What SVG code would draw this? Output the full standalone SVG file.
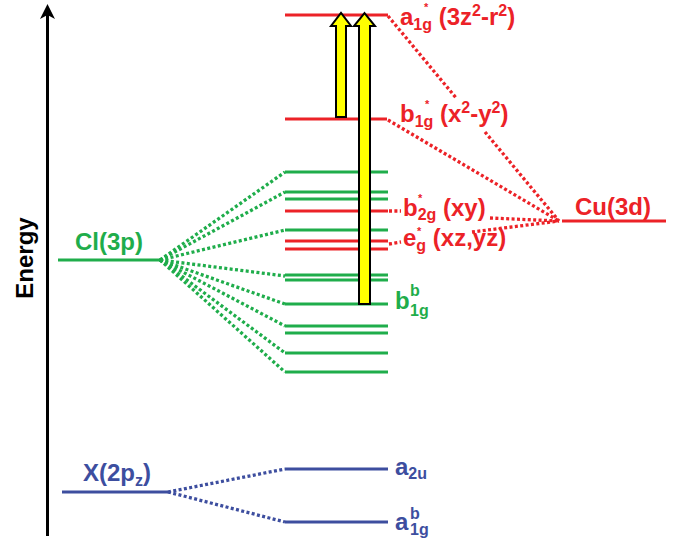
<svg xmlns="http://www.w3.org/2000/svg" width="676" height="541" viewBox="0 0 676 541">
<style>
.lv{stroke-width:3;fill:none}
.r{stroke:#ec2227}
.g{stroke:#1fad4b}
.b{stroke:#3d4e9f}
.dot{stroke-width:3.3;stroke-dasharray:3 2.4;fill:none}
text{font-family:"Liberation Sans",Arial,sans-serif;font-weight:bold}
.lab{font-size:24px}
.sub{font-size:16px}
.ast{font-size:11px}
.tr{fill:#ec2227}
.tg{fill:#1fad4b}
.tb{fill:#3d4e9f}
.yarrow{fill:#ffff00;stroke:#000;stroke-width:2;stroke-linejoin:miter}
</style>
<g id="axis">
<line x1="47.5" y1="536" x2="47.5" y2="12" stroke="#000" stroke-width="3"/>
<path d="M47.5,4 L55,19 L47.5,15 L40,19 Z" fill="#000"/>
<text class="lab" font-size="23" transform="translate(33,258) rotate(-90)" text-anchor="middle" fill="#000">Energy</text>
</g>
<g id="connectors">
<g class="dot g">
<line x1="160" y1="260" x2="285" y2="172"/>
<line x1="160" y1="260" x2="285" y2="192"/>
<line x1="160" y1="260" x2="285" y2="230"/>
<line x1="160" y1="260" x2="285" y2="276"/>
<line x1="160" y1="260" x2="285" y2="304"/>
<line x1="160" y1="260" x2="285" y2="326"/>
<line x1="160" y1="260" x2="285" y2="353"/>
<line x1="160" y1="260" x2="285" y2="372"/>
</g>
<g class="dot b">
<line x1="168" y1="492" x2="285" y2="469"/>
<line x1="168" y1="492" x2="285" y2="522"/>
</g>
<g class="dot r">
<line x1="388" y1="16" x2="457" y2="99"/>
<line x1="485" y1="132" x2="559" y2="221"/>
<line x1="388" y1="120" x2="559" y2="221"/>
<line x1="389" y1="211" x2="401" y2="211"/>
<line x1="490" y1="218" x2="559" y2="221"/>
<line x1="389" y1="244" x2="401" y2="242"/>
<line x1="472" y1="232" x2="559" y2="221"/>
</g>
</g>
<g id="cl3p">
<line class="lv g" x1="58" y1="260" x2="160" y2="260"/>
<text class="lab tg" x="75" y="250" font-size="25">Cl(3p)</text>
</g>
<g id="x2pz">
<line class="lv b" x1="62" y1="492" x2="168" y2="492"/>
<text class="lab tb" x="83" y="481">X(2p<tspan class="sub" dy="5">z</tspan><tspan dy="-5">)</tspan></text>
</g>
<g id="cu3d">
<line class="lv r" x1="562" y1="221" x2="666" y2="221"/>
<text class="lab tr" x="575" y="215">Cu(3d)</text>
</g>
<g id="green-levels" class="lv g">
<line x1="285" y1="172" x2="388" y2="172"/>
<line x1="285" y1="192" x2="388" y2="192"/>
<line x1="285" y1="199" x2="388" y2="199"/>
<line x1="285" y1="230" x2="388" y2="230"/>
<line x1="285" y1="275" x2="388" y2="275"/>
<line x1="285" y1="280" x2="388" y2="280"/>
<line x1="285" y1="304" x2="388" y2="304"/>
<line x1="285" y1="326" x2="388" y2="326"/>
<line x1="285" y1="333" x2="388" y2="333"/>
<line x1="285" y1="353" x2="388" y2="353"/>
<line x1="285" y1="372" x2="388" y2="372"/>
</g>
<g id="red-levels" class="lv r">
<line x1="285" y1="15" x2="388" y2="15"/>
<line x1="285" y1="119" x2="387" y2="119"/>
<line x1="285" y1="211" x2="388" y2="211"/>
<line x1="285" y1="241" x2="388" y2="241"/>
<line x1="285" y1="249" x2="388" y2="249"/>
</g>
<g id="blue-levels" class="lv b">
<line x1="285" y1="469" x2="388" y2="469"/>
<line x1="285" y1="522" x2="388" y2="522"/>
</g>
<g id="arrows">
<polygon class="yarrow" points="336,117 346,117 346,26 351,26 341,13 331,26 336,26"/>
<polygon class="yarrow" points="359,304 370,304 370,26 375,26 364.5,13 354,26 359,26"/>
</g>
<g id="label-a1g">
<text class="lab tr" x="400" y="25">a<tspan class="sub" dy="5">1g</tspan><tspan dy="-5"> (3z</tspan><tspan class="sub" dy="-9">2</tspan><tspan dy="9">-r</tspan><tspan class="sub" dy="-9">2</tspan><tspan dy="9">)</tspan></text>
<text class="ast tr" x="424" y="11">*</text>
</g>
<g id="label-b1g">
<text class="lab tr" x="400" y="122">b<tspan class="sub" dy="5">1g</tspan><tspan dy="-5"> (x</tspan><tspan class="sub" dy="-9">2</tspan><tspan dy="9">-y</tspan><tspan class="sub" dy="-9">2</tspan><tspan dy="9">)</tspan></text>
<text class="ast tr" x="425" y="108">*</text>
</g>
<g id="label-b2g">
<text class="lab tr" x="403" y="216">b<tspan class="sub" dy="4">2g</tspan><tspan dy="-4"> (xy)</tspan></text>
<text class="ast tr" x="418" y="202">*</text>
</g>
<g id="label-eg">
<text class="lab tr" x="403" y="246">e<tspan class="sub" dy="5">g</tspan><tspan dy="-5"> (xz,yz)</tspan></text>
<text class="ast tr" x="417" y="235">*</text>
</g>
<g id="label-b1gb">
<text class="lab tg" x="395" y="309">b</text>
<text class="sub tg" x="410" y="296">b</text>
<text class="sub tg" x="410" y="316">1g</text>
</g>
<g id="label-a2u">
<text class="lab tb" x="395" y="475">a<tspan class="sub" dy="4">2u</tspan></text>
</g>
<g id="label-a1gb">
<text class="lab tb" x="395" y="530">a</text>
<text class="sub tb" x="410" y="519">b</text>
<text class="sub tb" x="410" y="535">1g</text>
</g>
</svg>
